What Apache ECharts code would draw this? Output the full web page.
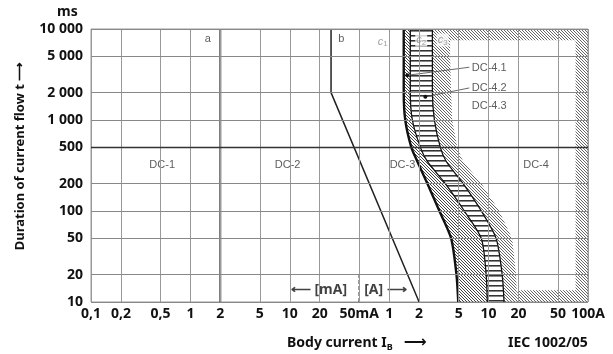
<!DOCTYPE html>
<html>
<head>
<meta charset="utf-8" />
<title>DC time/current zones</title>
<style>
  html, body { margin: 0; padding: 0; background: #fff; }
  #chart { width: 613px; height: 354px; }
</style>
</head>
<body>
<div id="chart"></div>
<script src="https://cdn.jsdelivr.net/npm/echarts@6/dist/echarts.min.js"></script>
<script>
// axis ticks (current: 0,1 mA .. 100 A, drawn on a mA-like log scale)
var xTicks = [0.1, 0.2, 0.5, 1, 2, 5, 10, 20, 50, 100, 200, 500, 1000, 2000, 5000, 10000];
var xTickLabels = ['0,1', '0,2', '0,5', '1', '2', '5', '10', '20', '50mA', '1', '2', '5', '10', '20', '50', '100A'];
var yTicks = [10, 20, 50, 100, 200, 500, 1000, 2000, 5000, 10000];
var yTickLabels = ['10', '20', '50', '100', '200', '500', '1 000', '2 000', '5 000', '10 000'];

// boundary curves [current, ms]
var curveA = [[2, 10], [2, 10000]];
var curveB = [[26, 10000], [26, 2000], [200, 10]];
var curveC1 = [[140, 10000], [140, 5000], [140, 2000], [145, 1000], [167, 500], [192, 350], [242, 200], [320, 100], [420, 50], [475, 20], [495, 10]];
var curveC2a = [[163, 10000], [163, 5000], [163, 2000], [171, 1000], [206, 500], [242, 350], [367, 200], [570, 100], [845, 50], [945, 20], [970, 10]];
var curveC2b = [[272, 10000], [272, 5000], [272, 2000], [285, 1000], [327, 500], [375, 350], [555, 200], [845, 100], [1190, 50], [1370, 20], [1430, 10]];
var curveC3 = [[410, 10000], [410, 5000], [420, 2000], [430, 1000], [485, 500], [555, 350], [845, 200], [1280, 100], [1725, 50], [1890, 20], [1940, 10]];
// hatched frame round zone DC-4
var dc4Frame = [[272, 10000], [10000, 10000], [10000, 10], [1940, 10], [1940, 13.5], [7500, 13.5], [7500, 7500], [272, 7500]];

var _font = 'Noto Sans';

function hatch(color, step) {
  var c = document.createElement('canvas');
  c.width = step; c.height = step;
  var ctx = c.getContext('2d');
  ctx.strokeStyle = color;
  ctx.lineWidth = 1;
  ctx.beginPath();
  ctx.moveTo(0, 0); ctx.lineTo(step, step);
  ctx.moveTo(-1, step - 1); ctx.lineTo(1, step + 1);
  ctx.moveTo(step - 1, -1); ctx.lineTo(step + 1, 1);
  ctx.stroke();
  return { image: c, repeat: 'repeat' };
}
function ladder() {
  var c = document.createElement('canvas');
  c.width = 4; c.height = 5;
  var ctx = c.getContext('2d');
  ctx.fillStyle = '#fff'; ctx.fillRect(0, 0, 4, 5);
  ctx.fillStyle = '#333'; ctx.fillRect(0, 0, 4, 1);
  ctx.fillStyle = '#888'; ctx.fillRect(0, 1, 4, 1);
  return { image: c, repeat: 'repeat' };
}
function band(left, right) {
  return left.concat(right.slice().reverse());
}

var regions = [
  { pts: band(curveC1, curveC2a), fill: hatch('#444', 3) },
  { pts: band(curveC2a, curveC2b), fill: ladder() },
  { pts: band(curveC2b, curveC3), fill: hatch('#666', 3) },
  { pts: dc4Frame, fill: hatch('#666', 3) }
];

// grid lines + tick labels
var gridLines = [];
xTicks.forEach(function (v, i) {
  gridLines.push({
    xAxis: v,
    lineStyle: { color: '#999', width: 1, type: 'solid' },
    label: { show: true, position: 'start', distance: 5, formatter: xTickLabels[i],
      fontFamily: _font, fontWeight: 'bold', fontSize: 14, color: '#111' }
  });
});
yTicks.forEach(function (v, i) {
  gridLines.push({
    yAxis: v,
    lineStyle: { color: v === 500 ? '#333' : '#888', width: v === 500 ? 1.3 : 1, type: 'solid' },
    label: { show: true, position: 'start', distance: 8, formatter: yTickLabels[i],
      fontFamily: _font, fontWeight: 'bold', fontSize: 14, color: '#111' }
  });
});

var cLab = {
  c: { fontFamily: 'Liberation Sans', fontSize: 11, color: '#888', fontStyle: 'italic' },
  n: { fontFamily: 'Liberation Sans', fontSize: 8, color: '#888', padding: [5, 0, 0, 0] }
};
var bold14 = { fontFamily: _font, fontWeight: 'bold', fontSize: 14, color: '#111' };

var myChart = echarts.init(document.getElementById('chart'));
var option = {
  animation: false,
  grid: { left: 91, right: 25, top: 29, bottom: 52, show: true, borderColor: '#999', borderWidth: 1 },
  xAxis: {
    type: 'log', logBase: 10, min: 0.1, max: 10000,
    axisLine: { show: false }, axisTick: { show: false }, axisLabel: { show: false }, splitLine: { show: false }
  },
  yAxis: {
    type: 'log', logBase: 10, min: 10, max: 10000,
    axisLine: { show: false }, axisTick: { show: false }, axisLabel: { show: false }, splitLine: { show: false }
  },
  graphic: [
    { type: 'text', left: 57, top: 5, style: { text: 'ms', font: 'bold 14px "Noto Sans"', fill: '#111' } },
    { type: 'text', x: 20, y: 156, rotation: Math.PI / 2,
      style: { text: 'Duration of current flow t \u27F6', font: 'bold 13px "Noto Sans"', fill: '#111',
        align: 'center', verticalAlign: 'middle' } },
    { type: 'text', x: 287, y: 343,
      style: { text: '{t|Body current I}{s|B}{a|  \u27F6}', align: 'left', verticalAlign: 'middle',
        rich: {
          t: { font: 'bold 14px "Noto Sans"', fill: '#111' },
          s: { font: 'bold 9px "Noto Sans"', fill: '#111', padding: [8, 0, 0, 0] },
          a: { font: 'bold 16px "DejaVu Sans"', fill: '#111' }
        } } },
    { type: 'text', x: 508, y: 343,
      style: { text: 'IEC 1002/05', font: 'bold 14px "Noto Sans"', fill: '#111', align: 'left', verticalAlign: 'middle' } }
  ],
  series: [
    {
      name: 'grid', type: 'line', z: 1, symbol: 'none', data: [[1, 100]],
      lineStyle: { opacity: 0 },
      markLine: { silent: true, symbol: 'none', animation: false, data: gridLines }
    },
    {
      name: 'zones', type: 'custom', z: 2, clip: true,
      data: regions.map(function () { return [1, 100]; }),
      renderItem: function (params, api) {
        var r = regions[params.dataIndex];
        var pts = r.pts.map(function (p) { return api.coord(p); });
        return { type: 'polygon', shape: { points: pts }, style: { fill: r.fill, stroke: null } };
      }
    },
    { name: 'a', type: 'line', z: 3, symbol: 'none', data: curveA, lineStyle: { color: '#222', width: 1.8 } },
    { name: 'b', type: 'line', z: 3, symbol: 'none', data: curveB, lineStyle: { color: '#222', width: 1.5 } },
    { name: 'c1', type: 'line', z: 3, symbol: 'none', smooth: 0.25, data: curveC1, lineStyle: { color: '#111', width: 2.4 } },
    { name: 'c2a', type: 'line', z: 3, symbol: 'none', smooth: 0.25, data: curveC2a, lineStyle: { color: '#111', width: 1.3 } },
    { name: 'c2b', type: 'line', z: 3, symbol: 'none', smooth: 0.25, data: curveC2b, lineStyle: { color: '#111', width: 1.3 } },
    { name: 'mA/A', type: 'line', z: 3, symbol: 'none', data: [[50, 10], [50, 20]],
      lineStyle: { color: '#111', width: 1.4, type: [4, 2] } },
    { name: 'lead1', type: 'line', z: 3, data: [{ value: [152, 3100], symbol: 'circle', symbolSize: 4 }, { value: [640, 3800], symbol: 'none' }],
      itemStyle: { color: '#111' }, lineStyle: { color: '#444', width: 0.8 } },
    { name: 'lead2', type: 'line', z: 3, data: [{ value: [231, 1800], symbol: 'circle', symbolSize: 4 }, { value: [640, 2250], symbol: 'none' }],
      itemStyle: { color: '#111' }, lineStyle: { color: '#444', width: 0.8 } },
    {
      name: 'labels', type: 'scatter', z: 4, symbolSize: 0,
      label: { show: true, position: 'inside', formatter: '{b}', fontFamily: 'Liberation Sans', fontSize: 11, color: '#333' },
      data: [
        { name: 'DC-1', value: [0.52, 320] },
        { name: 'DC-2', value: [9.5, 320] },
        { name: 'DC-3', value: [136, 320] },
        { name: 'DC-4', value: [3000, 320] },
        { name: 'DC-4.1', value: [1014, 3730] },
        { name: 'DC-4.2', value: [1014, 2250] },
        { name: 'DC-4.3', value: [1014, 1430] },
        { name: 'a', value: [1.5, 7760] },
        { name: 'b', value: [33, 7760] },
        { name: 'c1', value: [86, 7300], label: { formatter: '{c|c}{n|1}', rich: cLab } },
        { name: 'c2', value: [210, 7570], label: { formatter: '{c|c}{n|2}', rich: cLab, backgroundColor: '#fff', padding: [0, 1] } },
        { name: 'c3', value: [345, 7570], label: { formatter: '{c|c}{n|3}', rich: cLab, backgroundColor: '#fff', padding: [0, 1] } },
        { name: 'mA', value: [36, 13.6], label: Object.assign({ formatter: '\u27F5 [mA]', position: 'left', distance: -2 }, bold14) },
        { name: 'A', value: [74, 13.6], label: Object.assign({ formatter: '[A] \u27F6', position: 'right', distance: -12 }, bold14) }
      ]
    }
  ]
};
myChart.setOption(option);
</script>
</body>
</html>
